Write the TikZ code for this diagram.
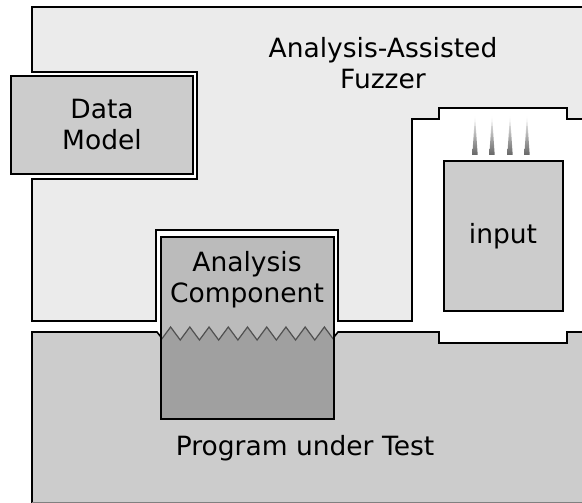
\documentclass[tikz,border=0pt]{standalone}
\usepackage{fontspec}
\setmainfont{DejaVu Sans}
\usetikzlibrary{calc}

\definecolor{fuzzgray}{HTML}{EBEBEB}
\definecolor{boxgray}{HTML}{CCCCCC}
\definecolor{compgray}{HTML}{BBBBBB}
\definecolor{deepgray}{HTML}{A0A0A0}
\definecolor{zigcol}{HTML}{505050}

\begin{document}
\begin{tikzpicture}[x=1pt,y=-1pt,line join=miter,font=\fontsize{26.5}{31}\selectfont,
  part/.style={draw=black,line width=1.6pt},
  label/.style={align=center,inner sep=0pt}]
\useasboundingbox (0,0) rectangle (582,503);
\clip (0,0) rectangle (582,503);
% fuzzer area, with cut-outs for data model, analysis component and input
\draw[part,fill=fuzzgray] (32,7) -- (590,7) -- (590,119) -- (567,119) -- (567,108) -- (439,108)
  -- (439,119) -- (412,119) -- (412,321) -- (338,321) -- (338,230) -- (156,230) -- (156,321)
  -- (32,321) -- (32,179) -- (197,179) -- (197,72) -- (32,72) -- cycle;
% program under test
\draw[part,fill=boxgray] (32,510) -- (32,332) -- (157,332) -- (161,337) -- (334,337) -- (338,332)
  -- (439,332) -- (439,343) -- (567,343) -- (567,332) -- (590,332) -- (590,510) -- cycle;
\draw[gray,line width=0.8pt] (32,502.5) -- (590,502.5);
% data model
\draw[part,fill=boxgray] (11,76) rectangle (193,174);
% analysis component, upper and lower half split by the zigzag
\fill[compgray] (161,237) rectangle (334,338);
\fill[deepgray] (161,338) -- plot[samples at={0,...,18}] ({161+\x*173/18},{ifthenelse(isodd(\x),327,340)}) -- (334,419) -- (161,419) -- cycle;
\draw[zigcol,line width=1.2pt] plot[samples at={0,...,18}] ({161+\x*173/18},{ifthenelse(isodd(\x),327,340)});
\draw[part] (161,237) rectangle (334,419);
% input with incoming spikes
\draw[part,fill=boxgray] (444,161) rectangle (563,311);
\foreach \sx in {475,492,510,527}
  \shade[top color=white,bottom color=black!60] (\sx-2.7,155) -- (\sx,115) -- (\sx+2.7,155) -- cycle;
% labels
\node[label] (fuzzer) at (383,63) {Analysis-Assisted\\Fuzzer};
\node[label] (datamodel) at (102,125) {Data\\Model};
\node[label] (analysis) at (247,280) {Analysis\\Component};
\node[label] (input) at (503,236) {input};
\node[label] (put) at (305,448) {Program under Test};
\end{tikzpicture}
\end{document}
